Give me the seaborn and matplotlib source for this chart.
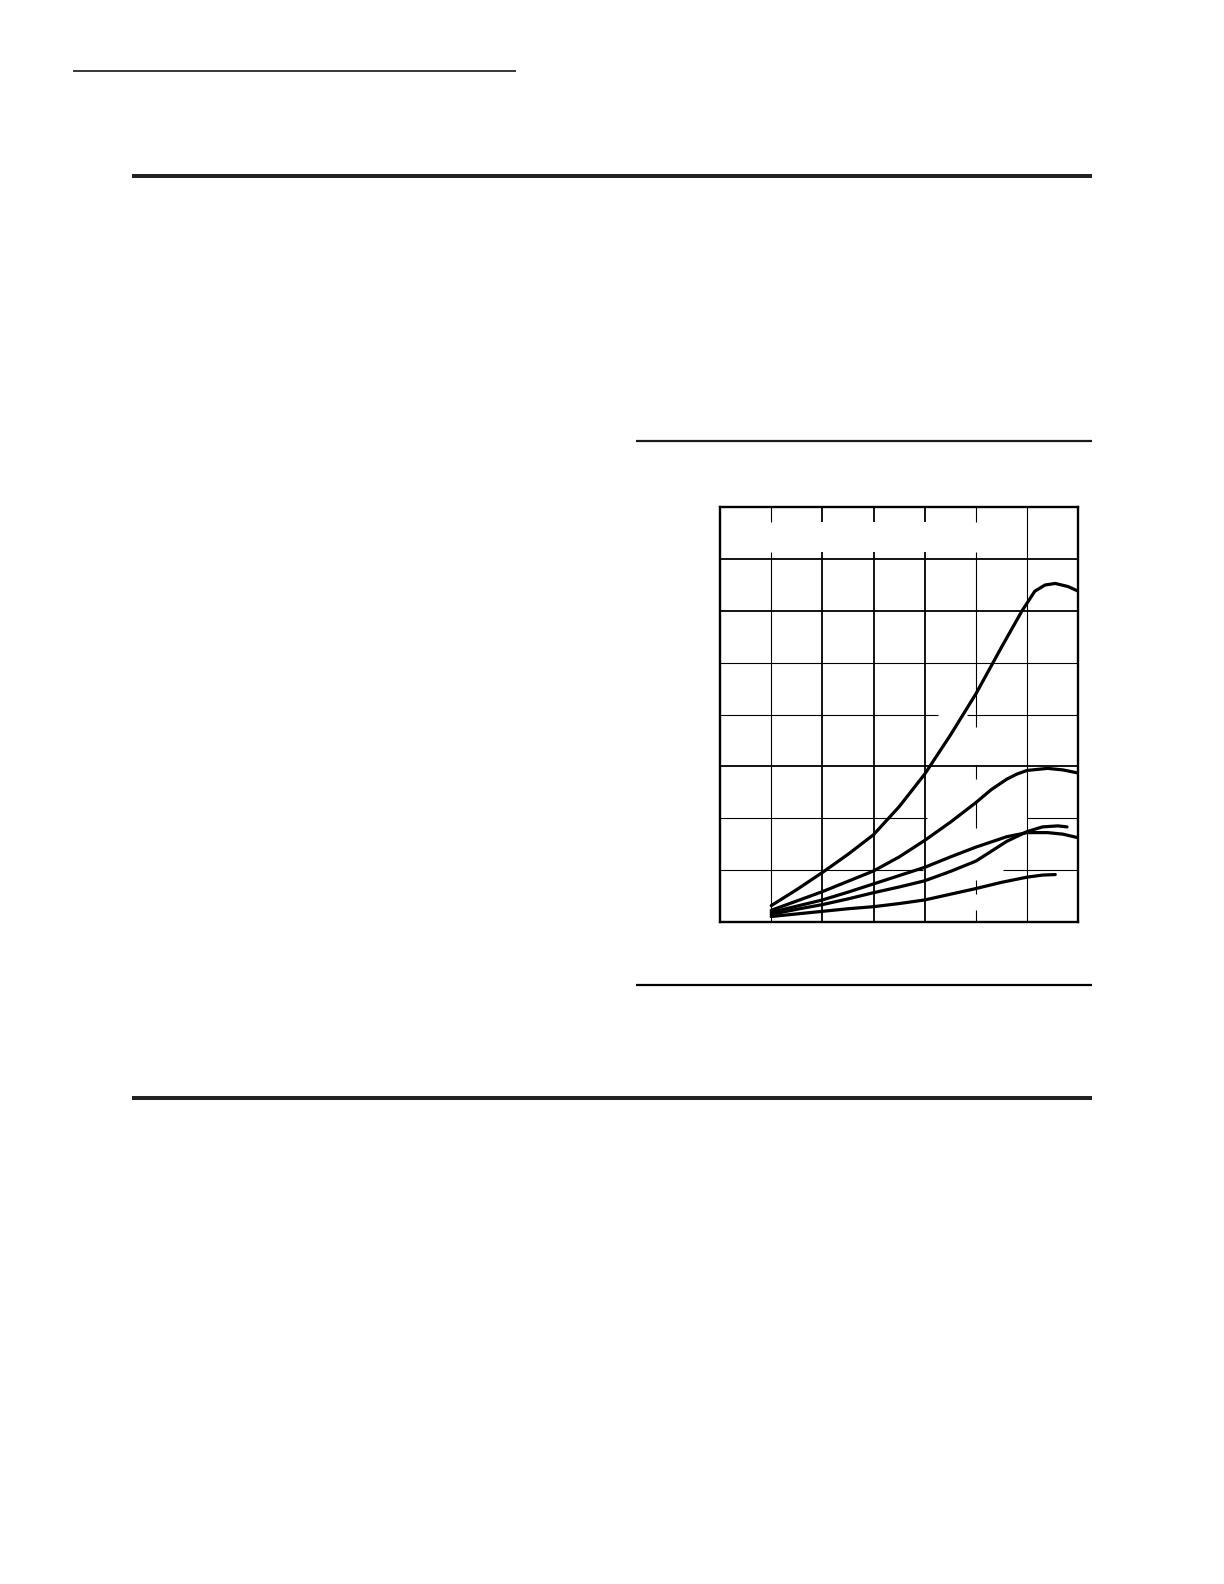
import matplotlib
matplotlib.use("Agg")
import matplotlib.pyplot as plt
import pandas as pd
import seaborn as sns

# curves, in grid units (7 columns wide, 8 rows high)
curve_a_x = [1.0, 1.5, 2.0, 2.5, 3.0, 3.5, 4.0, 4.5, 5.0, 5.5, 5.9, 6.15, 6.35, 6.55, 6.8, 7.0]
curve_a_y = [0.31, 0.62, 0.95, 1.3, 1.68, 2.22, 2.85, 3.6, 4.4, 5.3, 6.0, 6.38, 6.5, 6.53, 6.47, 6.38]

curve_b_x = [1.0, 1.5, 2.0, 2.5, 3.0, 3.5, 4.0, 4.5, 5.0, 5.3, 5.6, 5.8, 6.0, 6.4, 6.7, 7.0]
curve_b_y = [0.22, 0.4, 0.58, 0.78, 0.98, 1.25, 1.57, 1.92, 2.3, 2.55, 2.75, 2.85, 2.92, 2.96, 2.93, 2.87]

curve_c_x = [1.0, 1.5, 2.0, 2.5, 3.0, 3.5, 4.0, 4.5, 5.0, 5.6, 6.0, 6.4, 6.7, 7.0]
curve_c_y = [0.18, 0.3, 0.42, 0.57, 0.73, 0.89, 1.05, 1.25, 1.44, 1.64, 1.72, 1.72, 1.69, 1.62]

curve_d_x = [1.0, 1.5, 2.0, 2.5, 3.0, 3.5, 4.0, 4.5, 5.0, 5.6, 6.0, 6.3, 6.6, 6.78]
curve_d_y = [0.14, 0.24, 0.33, 0.44, 0.56, 0.67, 0.79, 0.97, 1.17, 1.55, 1.74, 1.83, 1.85, 1.83]

curve_e_x = [1.0, 1.5, 2.0, 2.5, 3.0, 3.5, 4.0, 4.5, 5.0, 5.5, 6.0, 6.3, 6.55]
curve_e_y = [0.1, 0.15, 0.2, 0.25, 0.29, 0.35, 0.42, 0.53, 0.64, 0.76, 0.86, 0.9, 0.91]

rows = []
for name, xs, ys in [("a", curve_a_x, curve_a_y), ("b", curve_b_x, curve_b_y),
                     ("c", curve_c_x, curve_c_y), ("d", curve_d_x, curve_d_y),
                     ("e", curve_e_x, curve_e_y)]:
    for x, y in zip(xs, ys):
        rows.append({"curve": name, "x": x, "y": y})
df = pd.DataFrame(rows)

sns.set_style("white")
fig = plt.figure(figsize=(12.24, 15.84), dpi=100)

# page rules, in pixel coordinates
page = fig.add_axes([0, 0, 1, 1])
page.set_xlim(0, 1224)
page.set_ylim(1584, 0)
page.axis("off")
page.hlines(71, 73, 516, color="black", lw=1.1)
page.hlines(176, 132, 1092, color="#222222", lw=2.9)
page.hlines(441, 636, 1092, color="#1a1a1a", lw=1.6)
page.hlines(985, 636, 1092, color="black", lw=1.6)
page.hlines(1098, 132, 1092, color="#222222", lw=2.9)

# the graph
ax = fig.add_axes([720 / 1224, 1 - 921.7 / 1584, 358.3 / 1224, 414.4 / 1584])
ax.set_xlim(0, 7)
ax.set_ylim(0, 8)
ax.set_xticks([])
ax.set_yticks([])
for s in ax.spines.values():
    s.set_visible(True)
    s.set_color("black")
    s.set_linewidth(1.7)

thick = 1.3
thin = 0.8
# horizontal grid (gaps where the labels were)
ax.hlines([7, 6, 3], 0, 7, color="black", lw=thick)
ax.hlines(5, 0, 7, color="black", lw=thin)
ax.hlines(4, 0, 4.25, color="black", lw=thin)
ax.hlines(4, 4.82, 7, color="black", lw=thin)
ax.hlines(2, 0, 4.04, color="black", lw=thin)
ax.hlines(2, 5.99, 7, color="black", lw=thin)
ax.hlines(1, 0, 3.97, color="black", lw=thin)
ax.hlines(1, 5.52, 7, color="black", lw=thin)

# vertical grid, top row only has short ticks
for c, w in [(1, thin), (2, thick), (3, thick), (4, thick)]:
    ax.vlines(c, 0, 7.14, color="black", lw=w)
    ax.vlines(c, 7.72, 8, color="black", lw=w)
for y0, y1 in [(0, 0.23), (0.54, 0.81), (1.81, 2.35), (2.75, 3.02), (3.76, 7.14), (7.72, 8)]:
    ax.vlines(5, y0, y1, color="black", lw=thin)
ax.vlines(6, 0, 8, color="black", lw=thin)

sns.lineplot(data=df, x="x", y="y", units="curve", estimator=None, sort=False,
             color="black", lw=2.3, ax=ax, legend=False)
for line in ax.get_lines():
    line.set_solid_capstyle("round")
    line.set_solid_joinstyle("round")
ax.set_xlabel("")
ax.set_ylabel("")

fig.savefig("out.png", dpi=100)
